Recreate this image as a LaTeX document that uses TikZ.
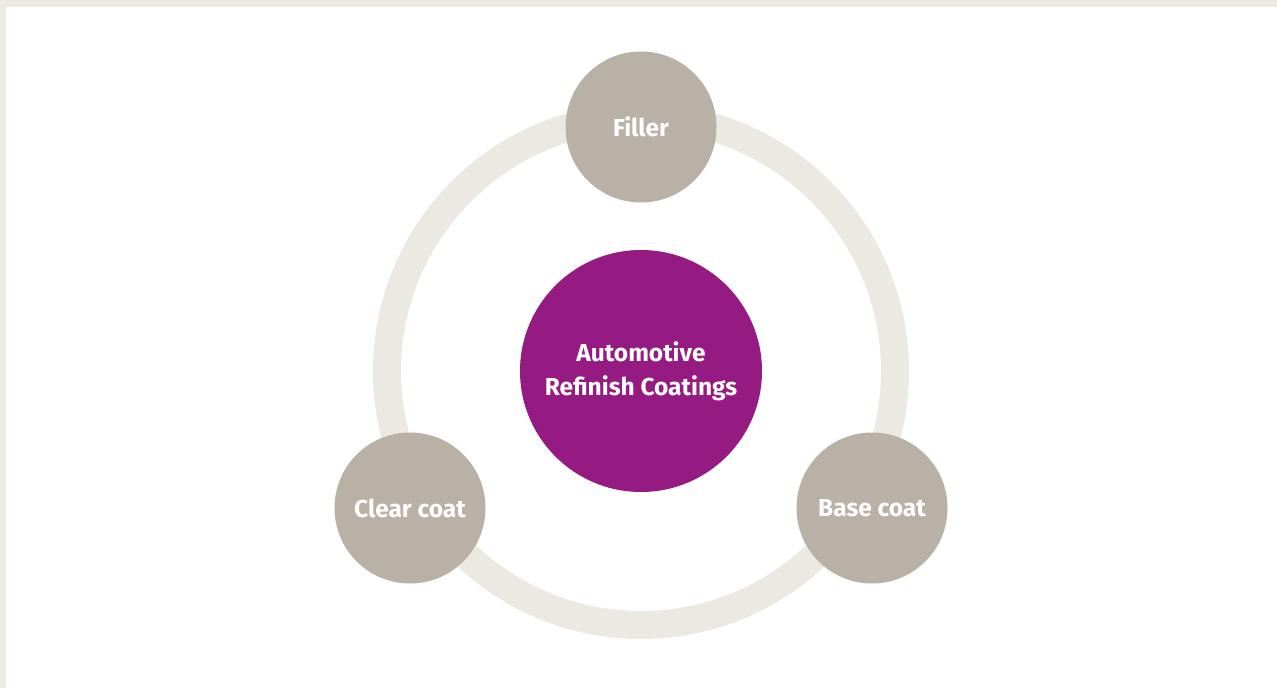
\documentclass[tikz,border=0pt]{standalone}
\usepackage{fontspec}
\setmainfont{Fira Sans}
\definecolor{ringc}{HTML}{ECE8E2}
\definecolor{satc}{HTML}{B9B0A6}
\definecolor{hubc}{HTML}{951A81}
\begin{document}
\begin{tikzpicture}[x=1pt,y=-1pt,
  sat/.style={circle,fill=satc,minimum size=151pt,inner sep=0pt,text=white,font=\fontsize{24.5}{28}\selectfont\bfseries},
  hub/.style={circle,fill=hubc,minimum size=242pt,inner sep=0pt,text=white,align=center,font=\fontsize{24.5}{34}\selectfont\bfseries}]
\useasboundingbox (0,0) rectangle (1277,688);
\fill[ringc] (0,0) rectangle (1277,688);
\fill[white] (6,7) rectangle (1277,688);
\coordinate (c) at (641,371);
\draw[ringc,line width=28pt] (c) circle[radius=254];
\node[hub] (hub) at (c) {Automotive\\Refinish Coatings};
\node[sat] (filler) at (641,127) {Filler};
\node[sat] (clear) at (410,508) {Clear coat};
\node[sat] (base) at (872,508) {Base coat};
\end{tikzpicture}
\end{document}
